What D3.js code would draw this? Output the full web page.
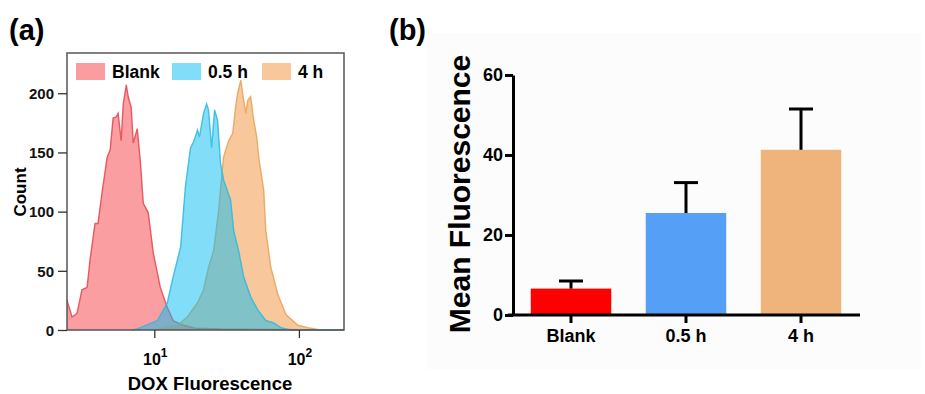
<!DOCTYPE html>
<html>
<head>
<meta charset="utf-8">
<script src="https://cdn.jsdelivr.net/npm/d3@7"></script>
<style>
  html, body { margin: 0; padding: 0; background: #fff; }
  svg { display: block; font-family: "Liberation Sans", Arial, sans-serif; }
</style>
</head>
<body>
<svg id="chart" width="925" height="394"></svg>
<script>
// ---- panel (a): flow cytometry histograms (DOX fluorescence vs count)
const blankX = [2.49, 2.7, 2.92, 3.16, 3.43, 3.59, 3.89, 4.08, 4.35, 4.72, 4.95, 5.19, 5.45, 5.62, 5.9, 6.1, 6.4, 6.6, 6.92, 7.15, 7.62, 8.0, 8.39, 9.08, 9.84, 11.0, 12.3, 13.5, 15.9, 19.3, 28.7, 60, 205];
const blankCount = [25, 11, 14, 34, 36, 59, 90, 90, 116, 146, 152, 179, 180, 183, 160, 191, 207, 197, 188, 158, 170, 143, 107, 99, 65, 36, 19, 8, 4, 1.5, 0.8, 0.4, 0];

const halfX = [7.0, 7.62, 10.5, 12.3, 13.5, 15.2, 16.4, 17.8, 18.7, 19.9, 20.5, 21.9, 23.0, 23.7, 24.9, 26.1, 27.4, 28.7, 30.1, 33.7, 35.4, 38.3, 41.5, 46.4, 51.9, 59.0, 67.0, 75.0, 88.0, 205];
const halfCount = [0, 1, 8, 23, 45, 70, 121, 154, 159, 169, 163, 183, 191, 186, 154, 186, 177, 141, 127, 110, 84, 67, 45, 28, 17, 8, 6, 2, 0, 0];

const fourX = [10.0, 11.5, 14.5, 16.9, 19.9, 21.9, 23.7, 25.7, 27.8, 30.1, 32.7, 34.8, 36.5, 37.7, 39.6, 41.5, 42.9, 44.3, 46.4, 48.7, 51.1, 52.7, 57.1, 59.0, 63.9, 71.5, 81.3, 98.4, 115, 142, 205];
const fourCount = [0, 2, 4, 11, 23, 34, 53, 67, 100, 146, 160, 166, 188, 200, 211, 194, 183, 194, 197, 177, 163, 146, 118, 84, 53, 30, 13, 4, 2, 0, 0];

const histNames = ["Blank", "0.5 h", "4 h"];
// base colours + fill opacity; the legend swatch shows the blended tint
const histBase = ["#f73d44", "#05bbf1", "#f29239"];
const histAlpha = [0.5, 0.5, 0.5];
const histSwatch = ["#fb9da0", "#82ddf8", "#f8c89c"];
const histStroke = ["#e0464c", "#2cb8e0", "#e8a155"];
const drawOrder = [0, 2, 1]; // blank, 4 h, then 0.5 h on top
const countTicks = [0, 50, 100, 150, 200];

// ---- panel (b): mean fluorescence bars
const groups = ["Blank", "0.5 h", "4 h"];
const meanValues = [6.6, 25.5, 41.3];
const sdValues = [1.9, 7.6, 10.2];
const barColors = ["#ff0000", "#559ff7", "#efb47c"];
const meanTicks = [0, 20, 40, 60];

const svg = d3.select("#chart");

// ================= panel (a) =================
const a = { left: 67, right: 344, top: 53, bottom: 330 };
const xA = d3.scaleLog().domain([2.49, 205]).range([a.left, a.right]);
const yA = d3.scaleLinear().domain([0, 234]).range([a.bottom, a.top]);

svg.append("text").attr("x", 9).attr("y", 40)
  .style("font-size", "29px").style("font-weight", "bold").text("(a)");

const hist = [
  { x: blankX, c: blankCount },
  { x: halfX, c: halfCount },
  { x: fourX, c: fourCount },
];

const area = d3.area()
  .x((d) => xA(d[0]))
  .y0(yA(0))
  .y1((d) => yA(d[1]));
const line = d3.line()
  .x((d) => xA(d[0]))
  .y((d) => yA(d[1]));

const plotA = svg.append("g");
drawOrder.forEach((i) => {
  const h = hist[i];
  const pts = h.x.map((v, j) => [v, h.c[j]]);
  plotA.append("path").datum(pts).attr("d", area)
    .attr("fill", histBase[i]).attr("fill-opacity", histAlpha[i]);
  plotA.append("path").datum(pts).attr("d", line)
    .attr("fill", "none").attr("stroke", histStroke[i])
    .attr("stroke-opacity", 0.85).attr("stroke-width", 1.4);
});

// frame
svg.append("rect")
  .attr("x", a.left).attr("y", a.top)
  .attr("width", a.right - a.left).attr("height", a.bottom - a.top)
  .attr("fill", "none").attr("stroke", "#555").attr("stroke-width", 1.5);

// y axis (count)
const yAxisA = svg.append("g").attr("transform", `translate(${a.left},0)`);
yAxisA.call(d3.axisLeft(yA).tickValues(d3.range(0, 231, 10)).tickSize(4).tickFormat(""));
yAxisA.call(d3.axisLeft(yA).tickValues(countTicks).tickSize(9).tickFormat(d3.format("d")));
yAxisA.selectAll(".domain").remove();
yAxisA.selectAll("line").attr("stroke", "#333").attr("stroke-width", 1.3);
yAxisA.selectAll("text")
  .attr("x", -13).attr("dy", "0.35em")
  .style("font-size", "15px").style("font-weight", "bold").attr("fill", "#111");

svg.append("text")
  .attr("transform", `translate(26,192) rotate(-90)`)
  .attr("text-anchor", "middle")
  .style("font-size", "17px").style("font-weight", "bold").text("Count");

// x axis (log)
const minorX = [3, 4, 5, 6, 7, 8, 9, 20, 30, 40, 50, 60, 70, 80, 90, 200];
const xAxisA = svg.append("g").attr("transform", `translate(0,${a.bottom})`);
xAxisA.call(d3.axisBottom(xA).tickValues(minorX).tickSize(4).tickFormat(""));
xAxisA.call(d3.axisBottom(xA).tickValues([10, 100]).tickSize(8).tickFormat(""));
xAxisA.selectAll(".domain").remove();
xAxisA.selectAll("line").attr("stroke", "#333").attr("stroke-width", 1.3);

[10, 100].forEach((v) => {
  const t = svg.append("text")
    .attr("x", xA(v) + 1).attr("y", 365)
    .attr("text-anchor", "middle")
    .style("font-size", "16px").style("font-weight", "bold");
  t.append("tspan").text("10");
  t.append("tspan").attr("dy", -8).style("font-size", "12px").text(Math.log10(v));
});

svg.append("text")
  .attr("x", 210).attr("y", 390)
  .attr("text-anchor", "middle")
  .style("font-size", "18.5px").style("font-weight", "bold").text("DOX Fluorescence");

// legend
const legendX = [76, 172, 262];
histNames.forEach((name, i) => {
  svg.append("rect").attr("x", legendX[i]).attr("y", 63)
    .attr("width", 29).attr("height", 17).attr("fill", histSwatch[i]);
  svg.append("text").attr("x", legendX[i] + 36).attr("y", 78)
    .style("font-size", "17.5px").style("font-weight", "bold").text(name);
});

// ================= panel (b) =================
svg.append("rect").attr("x", 427).attr("y", 33).attr("width", 494).attr("height", 336)
  .attr("fill", "#fcfcfc");

svg.append("text").attr("x", 389).attr("y", 40)
  .style("font-size", "29px").style("font-weight", "bold").text("(b)");

const xB = d3.scaleBand().domain(groups).range([513.5, 858.5])
  .paddingInner(0.3).paddingOuter(0.15);
const yB = d3.scaleLinear().domain([0, 60]).range([315, 75]);

svg.append("g").selectAll("rect").data(groups).join("rect")
  .attr("x", (d) => xB(d))
  .attr("y", (d, i) => yB(meanValues[i]))
  .attr("width", xB.bandwidth())
  .attr("height", (d, i) => yB(0) - yB(meanValues[i]))
  .attr("fill", (d, i) => barColors[i]);

// error bars (upper only)
const err = svg.append("g").attr("stroke", "#000").attr("stroke-width", 3);
groups.forEach((gname, i) => {
  const cx = xB(gname) + xB.bandwidth() / 2;
  err.append("line").attr("x1", cx).attr("x2", cx)
    .attr("y1", yB(meanValues[i])).attr("y2", yB(meanValues[i] + sdValues[i]));
  err.append("line").attr("x1", cx - 12).attr("x2", cx + 12)
    .attr("y1", yB(meanValues[i] + sdValues[i])).attr("y2", yB(meanValues[i] + sdValues[i]));
});

const yAxisB = svg.append("g").attr("transform", "translate(513,0)")
  .call(d3.axisLeft(yB).tickValues(meanTicks).tickSize(8).tickSizeOuter(0));
yAxisB.select(".domain").attr("stroke-width", 3);
yAxisB.selectAll("line").attr("stroke-width", 3);
yAxisB.selectAll("text").attr("x", -10)
  .style("font-size", "18px").style("font-weight", "bold").attr("fill", "#000");

const xAxisB = svg.append("g").attr("transform", "translate(0,315)")
  .call(d3.axisBottom(xB).tickSize(8).tickSizeOuter(0));
xAxisB.select(".domain").attr("d", "M508,0H860").attr("stroke-width", 3);
xAxisB.selectAll("line").attr("stroke-width", 3);
xAxisB.selectAll("text").attr("y", 14)
  .style("font-size", "18px").style("font-weight", "bold").attr("fill", "#000");

svg.append("text")
  .attr("transform", "translate(470,194) rotate(-90)")
  .attr("text-anchor", "middle")
  .style("font-size", "30px").style("font-weight", "bold").text("Mean Fluorescence");
</script>
</body>
</html>
